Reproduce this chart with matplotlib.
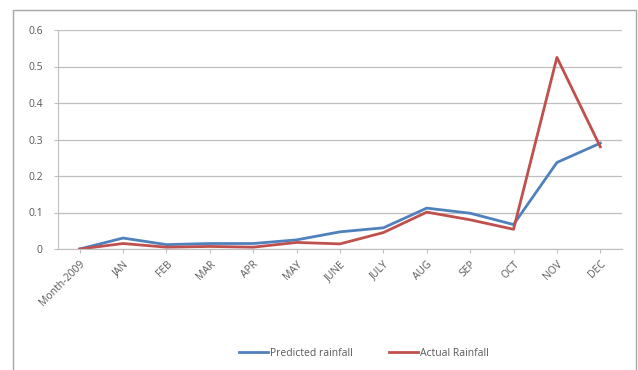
import matplotlib
matplotlib.use('Agg')
import matplotlib.pyplot as plt
from matplotlib.patches import Rectangle

months    = ['Month-2009', 'JAN', 'FEB', 'MAR', 'APR', 'MAY', 'JUNE',
             'JULY', 'AUG', 'SEP', 'OCT', 'NOV', 'DEC']
predicted = [0.0, 0.030, 0.012, 0.015, 0.015, 0.025, 0.047,
             0.058, 0.112, 0.098, 0.067, 0.237, 0.290]
actual    = [0.0, 0.015, 0.005, 0.007, 0.005, 0.018, 0.014,
             0.045, 0.101, 0.080, 0.054, 0.525, 0.280]
yticks    = [0, 0.1, 0.2, 0.3, 0.4, 0.5, 0.6]
ylabels   = ['0', '0.1', '0.2', '0.3', '0.4', '0.5', '0.6']

plt.rcParams['font.family'] = ['Open Sans', 'DejaVu Sans']
BLUE, RED, TXT, GRID = '#4F81BD', '#C0504D', '#595959', '#BFBFBF'

fig = plt.figure(figsize=(6.38, 3.70), dpi=100)
# outer chart frame
fig.patches.append(Rectangle((13/638, -0.01), 623/638, 1 - 10/370 + 0.01,
                             transform=fig.transFigure, fill=False,
                             edgecolor='#A6A6A6', linewidth=1.0))

ax = fig.add_axes([58/638, 121/370, 564/638, 219/370])
x = range(len(months))
ax.plot(x, predicted, color=BLUE, lw=2.0, label='Predicted rainfall')
ax.plot(x, actual, color=RED, lw=2.0, label='Actual Rainfall')

ax.set_xlim(-0.5, len(months) - 0.5)
ax.set_ylim(0, 0.6)
ax.set_yticks(yticks)
ax.set_yticklabels(ylabels)
ax.set_xticks(list(x))
ax.set_xticklabels(months, rotation=45, ha='right', rotation_mode='anchor')
ax.tick_params(axis='both', colors=GRID, labelcolor=TXT, labelsize=7.5, length=3)
ax.tick_params(axis='y', pad=8)
ax.tick_params(axis='x', pad=4)
ax.grid(axis='y', color=GRID, lw=0.9)
ax.set_axisbelow(True)
for s in ['top', 'right']:
    ax.spines[s].set_visible(False)
for s in ['left', 'bottom']:
    ax.spines[s].set_color(GRID)

fig.legend(loc='center', bbox_to_anchor=(364/638, 1 - 353/370), ncol=2,
           frameon=False, fontsize=7.5, labelcolor=TXT, handlelength=2.8,
           handletextpad=0.2, columnspacing=3.5)

fig.savefig('out.png', dpi=100)
